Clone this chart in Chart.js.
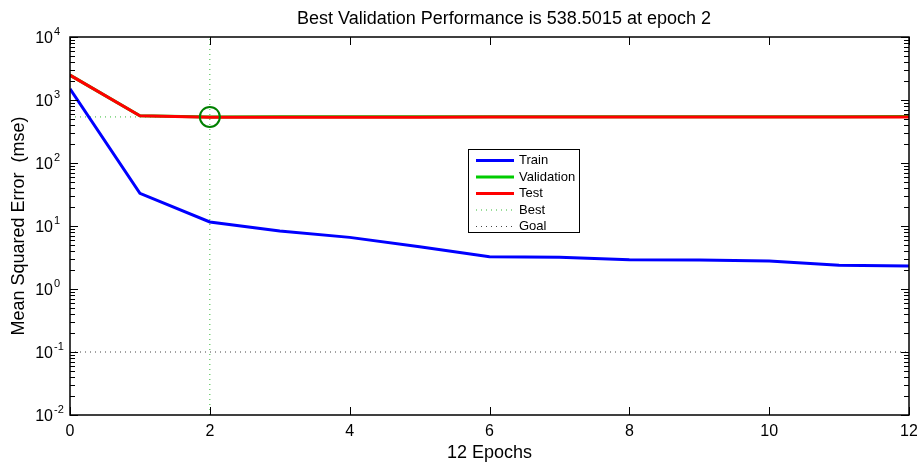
<!DOCTYPE html>
<html>
<head>
<meta charset="utf-8">
<script src="https://cdn.jsdelivr.net/npm/chart.js@4"></script>
<style>
html, body { margin: 0; padding: 0; background: #fff; }
#wrap { width: 917px; height: 464px; }
</style>
</head>
<body>
<div id="wrap"><canvas id="perfChart" width="917" height="464"></canvas></div>
<script>
// values
const epochs = [0, 1, 2, 3, 4, 5, 6, 7, 8, 9, 10, 11, 12];
const trainMse = [1500, 33, 11.6, 8.3, 6.6, 4.7, 3.25, 3.18, 2.92, 2.88, 2.78, 2.38, 2.32];
const validationMse = [2480, 562, 538.5015, 540, 541, 541, 542, 542, 543, 543, 544, 544, 545];
const testMse = [2480, 562, 532, 533, 534, 534, 535, 535, 535, 536, 536, 536, 537];
const bestEpoch = 2;
const bestPerf = 538.5015;
const goalMse = 0.1;
const xTicks = [0, 2, 4, 6, 8, 10, 12];
const yPowers = [-2, -1, 0, 1, 2, 3, 4];

const chartTitle = 'Best Validation Performance is ' + bestPerf + ' at epoch ' + bestEpoch;
const FONT = '"Liberation Sans", Arial, Helvetica, sans-serif';

function pts(ys) {
    return epochs.map((e, i) => ({x: e, y: ys[i]}));
}

// ticks inside the box, box outline, y labels with exponent, title, legend
const matlabAxes = {
    id: 'matlabAxes',
    afterDatasetsDraw(chart) {
        const ctx = chart.ctx;
        const a = chart.chartArea;
        const xs = chart.scales.x;
        const ys = chart.scales.y;
        ctx.save();
        ctx.strokeStyle = '#000';
        ctx.lineWidth = 1;
        ctx.beginPath();
        xTicks.forEach(t => {
            let px = Math.round(xs.getPixelForValue(t)) + 0.5;
            ctx.moveTo(px, a.bottom); ctx.lineTo(px, a.bottom - 8);
            ctx.moveTo(px, a.top); ctx.lineTo(px, a.top + 8);
        });
        yPowers.forEach(p => {
            for (let m = 1; m < 10; m++) {
                let v = m * Math.pow(10, p);
                if (v > 10000) break;
                let py = Math.round(ys.getPixelForValue(v)) + 0.5;
                let len = m === 1 ? 8 : 5;
                ctx.moveTo(a.left, py); ctx.lineTo(a.left + len, py);
                ctx.moveTo(a.right, py); ctx.lineTo(a.right - len, py);
            }
        });
        ctx.stroke();
        ctx.lineWidth = 1.5;
        ctx.strokeRect(a.left, a.top, a.right - a.left, a.bottom - a.top);

        // y tick labels 10^n
        ctx.fillStyle = '#000';
        ctx.textBaseline = 'middle';
        yPowers.forEach(p => {
            let py = ys.getPixelForValue(Math.pow(10, p));
            ctx.font = '16px ' + FONT;
            ctx.textAlign = 'right';
            ctx.fillText('10', 53, py + 2);
            ctx.font = '11px ' + FONT;
            ctx.textAlign = 'left';
            ctx.fillText(String(p), 54, py - 5);
        });

        // title
        ctx.font = '18px ' + FONT;
        ctx.textAlign = 'center';
        ctx.textBaseline = 'alphabetic';
        ctx.fillText(chartTitle, 504, 24);

        // legend
        const items = chart.data.datasets.filter(d => d.label);
        const bx = 468, by = 149, bw = 111, bh = 83;
        ctx.fillStyle = '#fff';
        ctx.fillRect(bx, by, bw, bh);
        ctx.lineWidth = 1;
        ctx.strokeStyle = '#000';
        ctx.strokeRect(bx + 0.5, by + 0.5, bw, bh);
        ctx.font = '13px ' + FONT;
        ctx.textAlign = 'left';
        ctx.textBaseline = 'middle';
        items.forEach((d, i) => {
            let ly = by + 11.5 + i * 16.5;
            ctx.save();
            ctx.strokeStyle = d.borderColor;
            ctx.lineWidth = d.borderWidth;
            ctx.setLineDash(d.borderDash || []);
            ctx.beginPath();
            ctx.moveTo(476, ly); ctx.lineTo(514, ly);
            ctx.stroke();
            ctx.restore();
            ctx.fillStyle = '#000';
            ctx.fillText(d.label, 519, ly);
        });
        ctx.restore();
    }
};

const data = {
    datasets: [
        {label: 'Train', data: pts(trainMse), borderColor: '#0000ff', borderWidth: 3, order: 3},
        {label: 'Validation', data: pts(validationMse), borderColor: '#00cc00', borderWidth: 3, order: 2},
        {label: 'Test', data: pts(testMse), borderColor: '#ff0000', borderWidth: 3, order: 1},
        {label: 'Best', data: [{x: 0, y: bestPerf}, {x: 12, y: bestPerf}], borderColor: 'rgba(0,170,0,0.8)', borderWidth: 1, borderDash: [1, 4], order: 6},
        {label: 'Goal', data: [{x: 0, y: goalMse}, {x: 12, y: goalMse}], borderColor: '#444', borderWidth: 1, borderDash: [1, 4], order: 6},
        {label: '', data: [{x: bestEpoch, y: 0.01}, {x: bestEpoch, y: 10000}], borderColor: 'rgba(0,170,0,0.8)', borderWidth: 1, borderDash: [1, 4], order: 6},
        {label: '', data: [{x: bestEpoch, y: bestPerf}], borderColor: '#008000', borderWidth: 2, showLine: false,
            pointRadius: 10, pointBackgroundColor: 'rgba(0,0,0,0)', pointBorderColor: '#008000', pointBorderWidth: 2, order: 0}
    ]
};

const config = {
    type: 'line',
    data,
    options: {
        responsive: false,
        animation: false,
        devicePixelRatio: 1,
        elements: {
            line: {tension: 0, fill: false},
            point: {radius: 0, hoverRadius: 0}
        },
        layout: {autoPadding: false, padding: {top: 37, right: 8, left: 0, bottom: 0}},
        plugins: {
            legend: {display: false},
            title: {display: false},
            tooltip: {enabled: false}
        },
        scales: {
            x: {
                type: 'linear', min: 0, max: 12,
                grid: {display: false, drawTicks: false},
                border: {display: false},
                afterBuildTicks: s => { s.ticks = xTicks.map(v => ({value: v})); },
                afterFit: s => { s.height = 49; s.paddingLeft = 0; s.paddingRight = 0; },
                ticks: {color: '#000', font: {size: 16, family: FONT}, padding: 7, maxRotation: 0},
                title: {display: true, text: '12 Epochs', color: '#000',
                    font: {size: 18, family: FONT, lineHeight: 1}, padding: {top: 0, bottom: 2}}
            },
            y: {
                type: 'logarithmic', min: 0.01, max: 10000,
                grid: {display: false, drawTicks: false},
                border: {display: false},
                ticks: {display: false},
                afterFit: s => { s.width = 70; s.paddingTop = 0; s.paddingBottom = 0; },
                title: {display: true, text: 'Mean Squared Error  (mse)', color: '#000',
                    font: {size: 18, family: FONT, lineHeight: 1}, padding: {top: 10, bottom: 0}}
            }
        }
    },
    plugins: [matlabAxes]
};

let perfChart = new Chart(document.getElementById('perfChart'), config);
</script>
</body>
</html>
